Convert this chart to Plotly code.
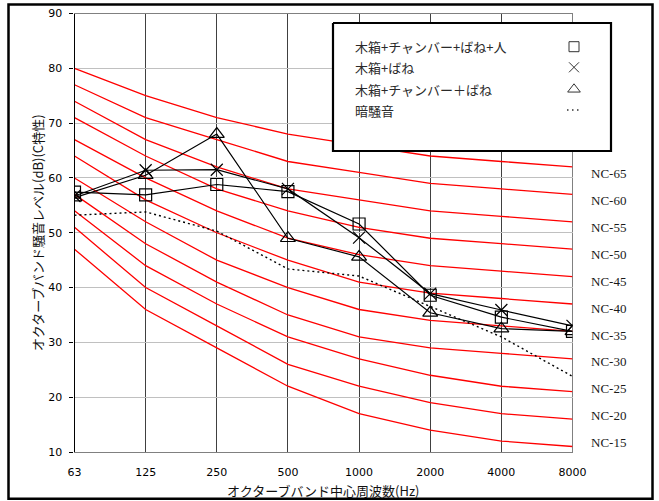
import plotly.graph_objects as go

# Octave-band centre frequencies (Hz)
freqs = ["63", "125", "250", "500", "1000", "2000", "4000", "8000"]
y_ticks = [10, 20, 30, 40, 50, 60, 70, 80, 90]

# NC reference curves (dB per octave band)
nc15 = [47, 36, 29, 22, 17, 14, 12, 11]
nc20 = [51, 40, 33, 26, 22, 19, 17, 16]
nc25 = [54, 44, 37, 31, 27, 24, 22, 21]
nc30 = [57, 48, 41, 35, 31, 29, 28, 27]
nc35 = [60, 52, 45, 40, 36, 34, 33, 32]
nc40 = [64, 56, 50, 45, 41, 39, 38, 37]
nc45 = [67, 60, 54, 49, 46, 44, 43, 42]
nc50 = [71, 64, 58, 54, 51, 49, 48, 47]
nc55 = [74, 67, 62, 58, 56, 54, 53, 52]
nc60 = [77, 71, 67, 63, 61, 59, 58, 57]
nc65 = [80, 75, 71, 68, 66, 64, 63, 62]
nc_names = ["NC-65", "NC-60", "NC-55", "NC-50", "NC-45", "NC-40",
            "NC-35", "NC-30", "NC-25", "NC-20", "NC-15"]

# Measured octave-band levels (dB, C-weighted)
box_chamber_spring_person = [57.4, 56.9, 58.8, 57.5, 51.6, 38.6, 34.6, 32.0]
box_spring = [56.7, 61.4, 61.5, 58.0, 49.1, 38.9, 35.9, 33.0]
box_chamber_spring = [56.4, 60.5, 68.0, 49.0, 45.6, 35.4, 32.5, 32.0]
background = [53.2, 53.8, 50.3, 43.4, 42.1, 36.6, 31.0, 23.8]

series_names = ["木箱+チャンバー+ばね+人", "木箱+ばね", "木箱+チャンバー＋ばね", "暗騒音"]

W, H = 659, 501
PL, PR, PT, PB = 74.5, 572.5, 13.5, 452  # plot area in pixels

fig = go.Figure()

# NC curves
for curve in [nc65, nc60, nc55, nc50, nc45, nc40, nc35, nc30, nc25, nc20, nc15]:
    fig.add_trace(go.Scatter(x=freqs, y=curve, mode="lines",
                             line=dict(color="#ff0000", width=1.3),
                             hoverinfo="skip"))

# Background noise
fig.add_trace(go.Scatter(x=freqs, y=background, mode="lines", name=series_names[3],
                         line=dict(color="black", width=1.4, dash="2px,3px")))

marker_line = dict(color="black", width=1.2)
fig.add_trace(go.Scatter(x=freqs, y=box_chamber_spring_person, mode="lines+markers",
                         name=series_names[0], line=dict(color="black", width=1.2),
                         marker=dict(symbol="square-open", size=12, color="black", line=marker_line)))
fig.add_trace(go.Scatter(x=freqs, y=box_spring, mode="lines+markers",
                         name=series_names[1], line=dict(color="black", width=1.2),
                         marker=dict(symbol="x-thin", size=12, color="black", line=marker_line)))
fig.add_trace(go.Scatter(x=freqs, y=box_chamber_spring, mode="lines+markers",
                         name=series_names[2], line=dict(color="black", width=1.2),
                         marker=dict(symbol="triangle-up-open", size=13, color="black", line=marker_line)))

# Legend panel drawn on a pixel-space overlay so it sits above the curves
LX0, LX1, LY0, LY1 = 333, 611, 23, 151
fig.add_trace(go.Scatter(x=[LX0, LX1, LX1, LX0, LX0], y=[LY0, LY0, LY1, LY1, LY0],
                         mode="lines", fill="toself", fillcolor="white",
                         line=dict(color="black", width=2.2),
                         xaxis="x2", yaxis="y2", hoverinfo="skip"))
rows = [46.7, 67.3, 89.3, 110]
sym_x = 574
fig.add_trace(go.Scatter(x=[sym_x], y=[rows[0]], mode="markers", xaxis="x2", yaxis="y2",
                         marker=dict(symbol="square-open", size=10, color="#333", line=dict(color="#333", width=1))))
fig.add_trace(go.Scatter(x=[sym_x], y=[rows[1]], mode="markers", xaxis="x2", yaxis="y2",
                         marker=dict(symbol="x-thin", size=10, color="#333", line=dict(color="#333", width=1))))
fig.add_trace(go.Scatter(x=[sym_x], y=[rows[2]], mode="markers", xaxis="x2", yaxis="y2",
                         marker=dict(symbol="triangle-up-open", size=11, color="#333", line=dict(color="#333", width=1))))
fig.add_trace(go.Scatter(x=[sym_x - 7, sym_x + 7], y=[rows[3], rows[3]], mode="lines", xaxis="x2", yaxis="y2",
                         line=dict(color="#333", width=1.4, dash="1.5px,3.5px")))

annotations = []
for name, ry in zip(series_names, rows):
    annotations.append(dict(text=name, xref="paper", yref="paper", x=353 / W, y=1 - ry / H,
                            xanchor="left", yanchor="middle", showarrow=False,
                            font=dict(family="Noto Sans CJK JP", size=13, color="#2a2a2a")))

# NC curve labels on the right
for i, name in enumerate(nc_names):
    annotations.append(dict(text=name, xref="paper", yref="y", x=589 / W, y=60.8 - 4.91 * i,
                            xanchor="left", yanchor="middle", showarrow=False,
                            font=dict(family="Liberation Serif", size=13, color="#1a1a1a")))

# Axis titles
annotations.append(dict(text="オクターブバンド騒音レベル(dB)(C特性)", xref="paper", yref="paper",
                        x=37 / W, y=1 - 233 / H, textangle=-90, showarrow=False,
                        xanchor="center", yanchor="middle",
                        font=dict(family="Noto Sans CJK JP", size=13, color="#111")))
annotations.append(dict(text="オクターブバンド中心周波数(Hz)", xref="paper", yref="paper",
                        x=323 / W, y=1 - 490 / H, showarrow=False,
                        xanchor="center", yanchor="middle",
                        font=dict(family="Noto Sans CJK JP", size=13, color="#111")))

shapes = [
    # right edge of plot area
    dict(type="line", xref="paper", yref="paper", x0=PR / W, x1=PR / W, y0=1 - PT / H, y1=1 - PB / H,
         line=dict(color="#808080", width=1), layer="below"),
    # outer frame
    dict(type="rect", xref="paper", yref="paper", x0=8.5 / W, x1=652.5 / W, y0=1 - 4.5 / H, y1=1 - 498.8 / H,
         line=dict(color="black", width=2.5)),
]

fig.update_layout(
    width=W, height=H, margin=dict(l=0, r=0, t=0, b=0),
    paper_bgcolor="white", plot_bgcolor="rgba(0,0,0,0)", showlegend=False,
    xaxis=dict(domain=[PL / W, PR / W], type="category", range=[0, 7], automargin=False,
               showgrid=True, gridcolor="#404040", gridwidth=1,
               showline=True, linecolor="#808080", linewidth=1, mirror=True,
               ticks="", ticklabelstandoff=10,
               tickfont=dict(family="DejaVu Sans", size=11, color="black")),
    yaxis=dict(domain=[1 - PB / H, 1 - PT / H], range=[10, 90], tickvals=y_ticks, automargin=False,
               showgrid=True, gridcolor="#c0c0c0", gridwidth=1, zeroline=False,
               showline=True, linecolor="black", linewidth=1.2,
               ticks="outside", ticklen=4, tickcolor="black", ticklabelstandoff=5,
               tickfont=dict(family="DejaVu Sans", size=11, color="black")),
    xaxis2=dict(domain=[0, 1], range=[0, W], visible=False, anchor="y2", fixedrange=True),
    yaxis2=dict(domain=[0, 1], range=[H, 0], visible=False, anchor="x2", fixedrange=True),
    annotations=annotations, shapes=shapes,
)

fig.write_html("out.html")
